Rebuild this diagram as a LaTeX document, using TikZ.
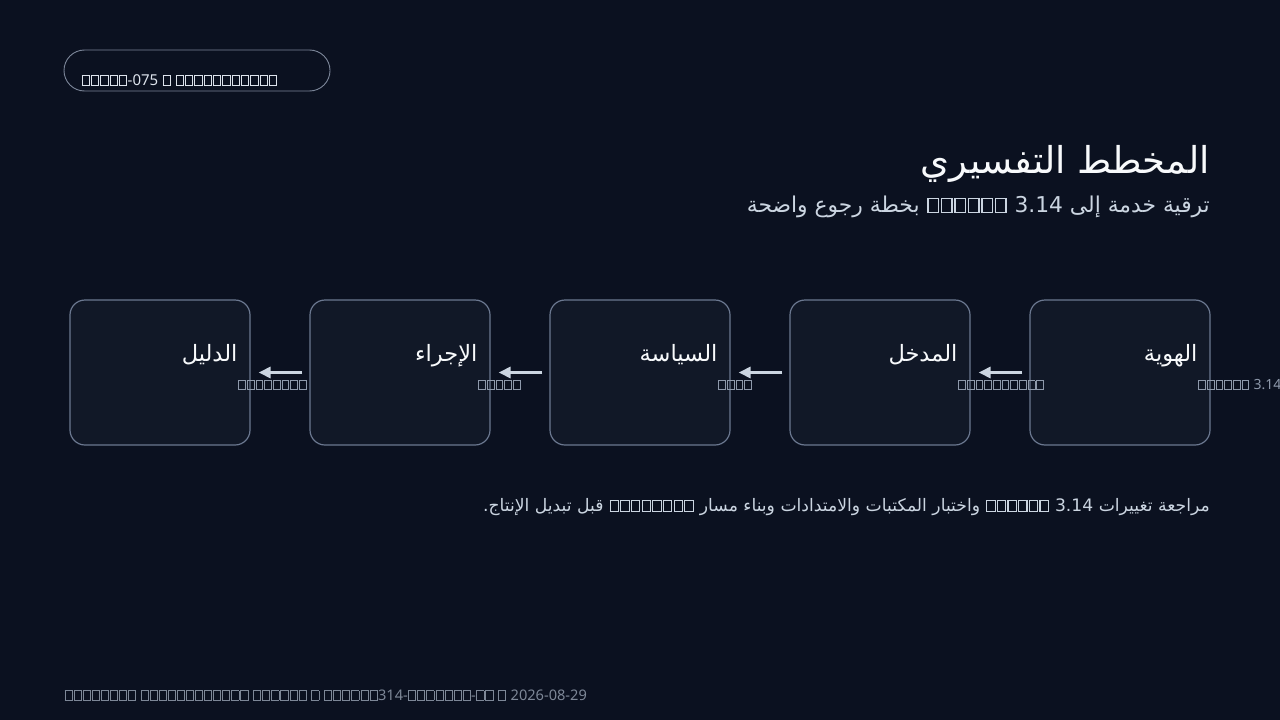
\documentclass[tikz,border=0pt]{standalone}
\usepackage{fontspec}
\setmainfont{Noto Sans}
\newfontfamily\arabicfont[Script=Arabic]{DejaVu Sans}
\TeXXeTstate=1
\usetikzlibrary{arrows.meta,calc}
\definecolor{bg}{HTML}{0B1120}
\definecolor{boxfill}{HTML}{111827}
\definecolor{boxline}{HTML}{6B7890}
\definecolor{arrowc}{HTML}{CBD5E1}
\definecolor{titlec}{HTML}{F8FAFC}
\definecolor{subc}{HTML}{CBD5E1}
\definecolor{labc}{HTML}{8E99AB}
\definecolor{footc}{HTML}{7D8797}
\definecolor{pillline}{HTML}{7B8598}
\definecolor{pilltext}{HTML}{DDE3EC}
\newcommand\tf{\makebox[0.62em]{\fboxsep=0pt\fboxrule=0.065em\fbox{\rule{0pt}{0.6em}\hspace{0.42em}}}}
\newcount\tfc
\newcommand\tfn[1]{\tfc=#1\relax\loop\ifnum\tfc>0 \tf\advance\tfc by -1 \repeat}
\tikzset{
 card/.style={draw=boxline, line width=1.2pt, fill=boxfill, rounded corners=15pt, minimum width=180pt, minimum height=145pt, inner sep=0pt},
 arr/.style={draw=arrowc, line width=3pt, -{Triangle[length=12pt,width=11pt]}},
 ttl/.style={anchor=base east, inner sep=0pt, text=titlec, font=\arabicfont\fontsize{22.5}{26}\selectfont},
 lab/.style={anchor=base west, inner sep=0pt, text=labc, font=\fontsize{14}{17}\selectfont},
}
\begin{document}
\begin{tikzpicture}[x=1pt,y=-1pt]
\useasboundingbox[fill=bg] (0,0) rectangle (1280,720);
% tag pill
\node[draw=pillline, line width=0.9pt, rounded corners=20.5pt, minimum width=266pt, minimum height=41pt, inner sep=0pt] (pill) at (197,70.5) {};
\node[anchor=base west, inner sep=0pt, text=pilltext, font=\fontsize{15}{18}\selectfont] (pilltxt) at (81,85) {\tfn{5}-075 \tf{} \tfn{11}};
% title
\node[anchor=base east, inner sep=0pt, text=titlec, font=\arabicfont\fontsize{37}{43}\selectfont] (title) at (1210,173) {\beginR المخطط التفسيري\endR};
\node[anchor=base east, inner sep=0pt, text=subc, font=\arabicfont\fontsize{21.8}{26}\selectfont] (sub) at (1210,212) {\beginR ترقية خدمة إلى \beginL\tfn{6} 3.14\endL{} بخطة رجوع واضحة\endR};
% cards
\node[card] (b1) at (160,372.5) {};
\node[card] (b2) at (400,372.5) {};
\node[card] (b3) at (640,372.5) {};
\node[card] (b4) at (880,372.5) {};
\node[card] (b5) at (1120,372.5) {};
\node[ttl] (t1) at ($(b1.north east)+(-13,62)$) {\beginR الدليل\endR};
\node[ttl] (t2) at ($(b2.north east)+(-13,62)$) {\beginR الإجراء\endR};
\node[ttl] (t3) at ($(b3.north east)+(-13,62)$) {\beginR السياسة\endR};
\node[ttl] (t4) at ($(b4.north east)+(-13,62)$) {\beginR المدخل\endR};
\node[ttl] (t5) at ($(b5.north east)+(-13,62)$) {\beginR الهوية\endR};
% arrows
\draw[arr] ([xshift=-7pt]b2.west) -- ([xshift=8pt]b1.east);
\draw[arr] ([xshift=-7pt]b3.west) -- ([xshift=8pt]b2.east);
\draw[arr] ([xshift=-7pt]b4.west) -- ([xshift=8pt]b3.east);
\draw[arr] ([xshift=-7pt]b5.west) -- ([xshift=8pt]b4.east);
% labels
\node[lab] (l1) at ($(b1.north east)+(-13,90)$) {\tfn{8}};
\node[lab] (l2) at ($(b2.north east)+(-13,90)$) {\tfn{5}};
\node[lab] (l3) at ($(b3.north east)+(-13,90)$) {\tfn{4}};
\node[lab] (l4) at ($(b4.north east)+(-13,90)$) {\tfn{10}};
\node[lab] (l5) at ($(b5.north east)+(-13,90)$) {\tfn{6} 3.14};
% body
\node[anchor=base east, inner sep=0pt, text=subc, font=\arabicfont\fontsize{17.2}{21}\selectfont] (body) at (1210,511) {\beginR مراجعة تغييرات \beginL\tfn{6} 3.14\endL{} واختبار المكتبات والامتدادات وبناء مسار \beginL\tfn{8}\endL{} قبل تبديل الإنتاج.\endR};
% footer
\node[anchor=base west, inner sep=0pt, text=footc, font=\fontsize{14.6}{18}\selectfont] (foot) at (64,700) {\tfn{8} \tfn{12} \tfn{6} \tf{} \tfn{6}314-\tfn{7}-\tfn{2} \tf{} 2026-08-29};
\end{tikzpicture}
\end{document}
